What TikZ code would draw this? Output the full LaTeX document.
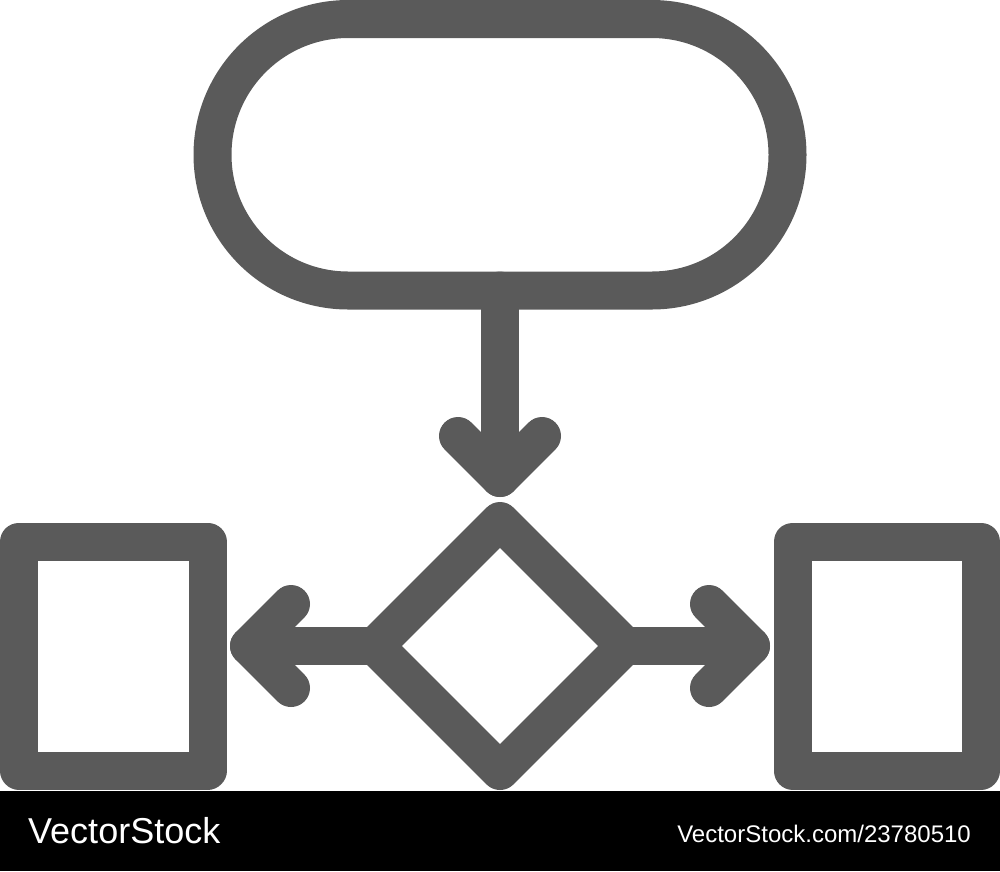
\documentclass[tikz,border=0pt]{standalone}
\usepackage{fontspec}
\setmainfont{Liberation Sans}
\usetikzlibrary{shapes.geometric,calc}
\definecolor{iconGray}{RGB}{90,90,90}
\tikzset{
  icon/.style={draw=iconGray, line width=38pt, line join=round, line cap=round},
  shapebox/.style={icon, rectangle, inner sep=0pt, outer sep=0pt},
  chev/.style={draw=iconGray, line width=38pt, line join=round, line cap=round},
}
\begin{document}
\begin{tikzpicture}[x=1pt, y=-1pt]
  \useasboundingbox (0,0) rectangle (1000,871);
  % start terminator
  \node[shapebox, rounded corners=135.75pt, minimum width=575pt, minimum height=271.5pt] (start) at (500,154.75) {};
  % decision
  \node[icon, diamond, aspect=1, inner sep=0pt, outer sep=0pt, minimum width=250pt, minimum height=250pt] (dec) at (500,646) {};
  % process boxes
  \node[shapebox, minimum width=188.5pt, minimum height=229pt] (left) at (113.25,656) {};
  \node[shapebox, minimum width=188.5pt, minimum height=229pt] (right) at (886.75,656) {};
  % arrow tips
  \coordinate (tipD) at (500,478);
  \coordinate (tipL) at (249,646);
  \coordinate (tipR) at (751,646);
  % connectors
  \draw[chev] (start.south) -- (tipD);
  \draw[chev] ($(tipD)+(-42,-42)$) -- (tipD) -- ($(tipD)+(42,-42)$);
  \draw[chev] (dec.west) -- (tipL);
  \draw[chev] ($(tipL)+(42,-42)$) -- (tipL) -- ($(tipL)+(42,42)$);
  \draw[chev] (dec.east) -- (tipR);
  \draw[chev] ($(tipR)+(-42,-42)$) -- (tipR) -- ($(tipR)+(-42,42)$);
  % watermark bar
  \fill[black] (0,791) rectangle (1000,871);
  \node[anchor=base west, inner sep=0pt, text=white, font=\fontsize{36}{36}\selectfont] (wm) at (28,843) {VectorStock};
  \node[anchor=base east, inner sep=0pt, text=white, font=\fontsize{24}{24}\selectfont] (wmurl) at (971,842) {VectorStock.com/23780510};
\end{tikzpicture}
\end{document}
